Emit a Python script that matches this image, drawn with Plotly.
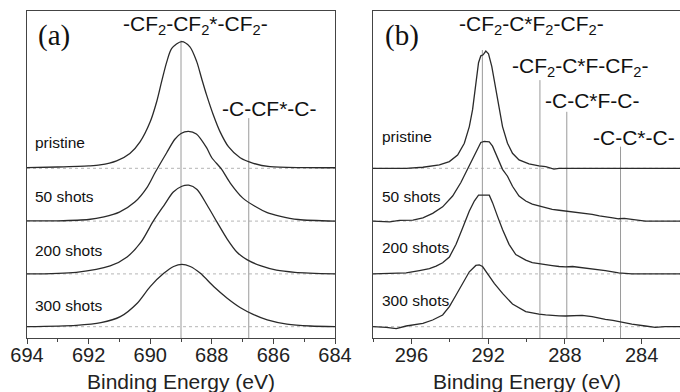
import plotly.graph_objects as go

# ---------------- data ----------------
sample_labels = ["pristine", "50 shots", "200 shots", "300 shots"]
offsets = [3, 2, 1, 0]

# Panel (a): F 1s region
a_E_pristine = [694, 693, 692, 691.63, 691.09, 690.66, 690.33, 690.0, 689.79, 689.63, 689.46, 689.3,
                688.98, 688.71, 688.49, 688.33, 688.17, 687.95, 687.73, 687.46, 687.08, 686.65,
                686.11, 685, 684]
a_I_pristine = [0.013, 0.025, 0.045, 0.063, 0.14, 0.28, 0.50, 0.88, 1.26, 1.64, 2.02, 2.27,
                2.40, 2.30, 2.02, 1.70, 1.39, 1.01, 0.69, 0.41, 0.20, 0.095,
                0.03, 0.013, 0.01]
a_E_50 = [694, 693, 692, 691.5, 691, 690.5, 690.1, 689.84, 689.46, 689.2, 689.0, 688.76,
          688.5, 688.17, 688.0, 687.68, 687.4, 687.0, 686.6, 686.2, 685.8, 685.2, 684]
a_I_50 = [0.005, 0.006, 0.03, 0.08, 0.17, 0.36, 0.64, 0.92, 1.30, 1.55, 1.66, 1.70,
          1.65, 1.39, 1.20, 0.98, 0.72, 0.44, 0.28, 0.16, 0.095, 0.03, 0.0]
a_E_200 = [694, 692.4, 691.3, 690.75, 690.3, 689.9, 689.55, 689.25, 688.97, 688.75, 688.48,
           688.15, 687.83, 687.5, 687.18, 686.86, 686.4, 685.9, 685.3, 684]
a_I_200 = [0.0, 0.03, 0.15, 0.32, 0.60, 1.00, 1.30, 1.55, 1.66, 1.68, 1.60,
           1.30, 0.98, 0.66, 0.41, 0.27, 0.15, 0.07, 0.03, 0.0]
a_E_300 = [694, 692.4, 691.6, 690.97, 690.43, 690.0, 689.56, 689.24, 688.97, 688.7, 688.37,
           687.94, 687.5, 687.07, 686.64, 686.2, 685.56, 684.8, 684]
a_I_300 = [0.0, 0.025, 0.076, 0.19, 0.44, 0.76, 1.01, 1.14, 1.18, 1.14, 1.01,
           0.76, 0.54, 0.36, 0.23, 0.13, 0.05, 0.013, 0.0]

# Panel (b): C 1s region
b_E_pristine = [298, 296.27, 295.4, 294.54, 294.02, 293.59, 293.24, 292.98, 292.81, 292.64, 292.5,
                292.38, 292.26, 292.12, 291.98, 291.81, 291.63, 291.46, 291.25, 290.99, 290.73,
                290.39, 289.87, 289.35, 289.0, 288.57, 288.31, 282]
b_I_pristine = [0.0, 0.0, 0.02, 0.063, 0.127, 0.25, 0.475, 0.79, 1.11, 1.55, 2.0,
                2.13, 2.15, 2.22, 2.17, 1.93, 1.57, 1.2, 0.79, 0.475, 0.285,
                0.158, 0.082, 0.045, 0.032, -0.015, 0.0, 0.0]
b_E_50 = [298, 297.13, 296.62, 295.92, 295.4, 294.89, 294.37, 293.85, 293.42, 293.07, 292.81,
          292.55, 292.38, 292.2, 291.94, 291.77, 291.51, 291.25, 290.99, 290.73, 290.39, 290.04,
          289.7, 289.35, 289.0, 288.66, 288.3, 287.97, 287.6, 287.27, 286.9, 286.58, 286.2,
          285.89, 285.5, 285.2, 284.9, 284.51, 284.2, 283.81, 282]
b_I_50 = [0.0, -0.013, 0.013, 0.02, 0.063, 0.146, 0.27, 0.475, 0.73, 0.98, 1.17,
          1.36, 1.49, 1.51, 1.50, 1.42, 1.20, 0.98, 0.85, 0.66, 0.475, 0.38,
          0.32, 0.285, 0.25, 0.22, 0.205, 0.19, 0.185, 0.17, 0.15, 0.127, 0.10,
          0.076, 0.06, 0.044, 0.05, 0.032, 0.02, 0.0, 0.0]
b_E_200 = [298, 296.96, 296.27, 295.58, 295.06, 294.71, 294.37, 294.02, 293.67, 293.33, 292.98,
           292.72, 292.5, 291.94, 291.77, 291.51, 291.25, 290.91, 290.56, 290.04, 289.7, 289.35,
           289.0, 288.66, 288.3, 287.97, 287.6, 287.27, 286.9, 286.58, 286.2, 285.89, 285.5,
           285.2, 284.51, 282]
b_I_200 = [0.0, 0.006, 0.019, 0.063, 0.10, 0.146, 0.21, 0.32, 0.56, 0.87, 1.19,
           1.38, 1.49, 1.49, 1.35, 1.09, 0.84, 0.56, 0.367, 0.26, 0.215, 0.196,
           0.17, 0.158, 0.14, 0.133, 0.14, 0.127, 0.115, 0.101, 0.085, 0.063, 0.04,
           0.019, 0.0, 0.0]
b_E_300 = [298, 297.31, 296.79, 296.27, 295.4, 294.89, 294.37, 294.02, 293.67, 293.33, 292.98,
           292.64, 292.46, 292.29, 292.03, 291.68, 291.25, 290.73, 290.04, 289.7, 289.35, 289.0,
           288.66, 288.3, 287.97, 287.5, 287.1, 286.58, 286.2, 285.89, 285.5, 285.2, 284.9,
           284.51, 283.81, 283.29, 282.78, 282]
b_I_300 = [0.0, -0.013, -0.038, 0.013, 0.063, 0.127, 0.222, 0.38, 0.60, 0.82, 1.04,
           1.16, 1.17, 1.14, 1.01, 0.82, 0.63, 0.43, 0.285, 0.26, 0.24, 0.225,
           0.21, 0.205, 0.203, 0.21, 0.215, 0.19, 0.16, 0.139, 0.12, 0.095, 0.08,
           0.05, 0.013, -0.013, 0.0, 0.0]

# component reference lines (position, top of line in stacked units)
a_lines_E = [689.0, 686.8]
a_lines_top = [5.42, 3.95]
a_line_labels = ["-CF<sub>2</sub>-CF<sub>2</sub>*-CF<sub>2</sub>-", "-C-CF*-C-"]
b_lines_E = [292.3, 289.3, 287.9, 285.1]
b_lines_top = [5.24, 4.67, 4.07, 3.41]
b_line_labels = ["-CF<sub>2</sub>-C*F<sub>2</sub>-CF<sub>2</sub>-", "-CF<sub>2</sub>-C*F-CF<sub>2</sub>-",
                 "-C-C*F-C-", "-C-C*-C-"]

a_ticks = [694, 692, 690, 688, 686, 684]
b_ticks = [296, 292, 288, 284]
a_range = [694, 684]
b_range = [298, 282]
y_range = [-0.214, 5.979]
x_title = "Binding Energy (eV)"

# ---------------- figure ----------------
W, H = 680, 392
TOP, BOT = 11, 338
FONT = "Liberation Sans, Arial, sans-serif"
CURVE = "#2a2a2a"

fig = go.Figure()

def px(x):
    return x / W

def py(y):
    return (BOT - y) / (BOT - TOP)

a_series = [(a_E_pristine, a_I_pristine), (a_E_50, a_I_50), (a_E_200, a_I_200), (a_E_300, a_I_300)]
b_series = [(b_E_pristine, b_I_pristine), (b_E_50, b_I_50), (b_E_200, b_I_200), (b_E_300, b_I_300)]

for (xa, ya, rng) in [("x", "y", a_range), ("x2", "y2", b_range)]:
    for off in offsets:
        fig.add_trace(go.Scatter(x=rng, y=[off, off], mode="lines", xaxis=xa, yaxis=ya,
                                 line=dict(color="#b5b5b5", width=1, dash="dot"),
                                 showlegend=False, hoverinfo="skip"))

for (xa, ya, E, T) in [("x", "y", a_lines_E, a_lines_top), ("x2", "y2", b_lines_E, b_lines_top)]:
    for e, t in zip(E, T):
        fig.add_trace(go.Scatter(x=[e, e], y=[t, y_range[0]], mode="lines", xaxis=xa, yaxis=ya,
                                 line=dict(color="#9a9a9a", width=1),
                                 showlegend=False, hoverinfo="skip"))

for (xa, ya, series, shape) in [("x", "y", a_series, "spline"), ("x2", "y2", b_series, "linear")]:
    for (E, I), off, name in zip(series, offsets, sample_labels):
        fig.add_trace(go.Scatter(x=E, y=[v + off for v in I], mode="lines", xaxis=xa, yaxis=ya,
                                 line=dict(color=CURVE, width=1.3, shape=shape, smoothing=0.8),
                                 name=name, showlegend=False))

axis_common = dict(showline=True, linecolor="#444", linewidth=1, showgrid=False, zeroline=False,
                   ticks="outside", ticklen=5, tickcolor="#444", automargin=False,
                   ticklabelstandoff=-6,
                   tickfont=dict(family=FONT, size=20, color="#222"))

fig.update_layout(
    width=W, height=H, margin=dict(l=0, r=0, t=TOP, b=H - BOT, pad=0),
    paper_bgcolor="white", plot_bgcolor="white", showlegend=False,
    xaxis=dict(domain=[px(27), px(335)], range=a_range, tickmode="array", tickvals=a_ticks,
               mirror=True, anchor="y",
               minor=dict(tickmode="linear", tick0=0, dtick=1, ticks="outside", ticklen=3, tickcolor="#444"),
               **axis_common),
    yaxis=dict(domain=[0, 1], range=y_range, showline=True, linecolor="#444", mirror=True,
               showticklabels=False, ticks="", showgrid=False, zeroline=False, anchor="x",
               automargin=False),
    xaxis2=dict(domain=[px(373), 1.0], range=b_range, tickmode="array", tickvals=b_ticks,
                mirror=True, anchor="y2",
                minor=dict(tickmode="linear", tick0=0, dtick=2, ticks="outside", ticklen=3, tickcolor="#444"),
                **axis_common),
    yaxis2=dict(domain=[0, 1], range=y_range, showline=True, linecolor="#444", mirror=False,
                showticklabels=False, ticks="", showgrid=False, zeroline=False, anchor="x2",
                automargin=False),
)

ann = []
ann.append(dict(text="(a)", x=px(54), y=py(35), font=dict(family="Liberation Serif, Times New Roman, serif", size=29, color="#111")))
ann.append(dict(text="(b)", x=px(402), y=py(35), font=dict(family="Liberation Serif, Times New Roman, serif", size=29, color="#111")))
a_lab_pos = [(195, 25, "center"), (220, 108, "left")]
b_lab_pos = [(531, 25, "center"), (580, 67, "center"), (592, 100, "center"), (634, 137, "center")]
for lab, (x, y, anc) in zip(a_line_labels, a_lab_pos):
    ann.append(dict(text=lab, x=px(x), y=py(y), xanchor=anc, font=dict(family=FONT, size=21, color="#111")))
for lab, (x, y, anc) in zip(b_line_labels, b_lab_pos):
    ann.append(dict(text=lab, x=px(x), y=py(y), xanchor=anc, font=dict(family=FONT, size=21, color="#111")))
a_samp_y = [142, 196, 250, 305]
b_samp_y = [136, 196, 247, 300]
for lab, y in zip(sample_labels, a_samp_y):
    ann.append(dict(text=lab, x=px(33), y=py(y), xanchor="left", font=dict(family=FONT, size=15.5, color="#111")))
for lab, y in zip(sample_labels, b_samp_y):
    ann.append(dict(text=lab, x=px(380), y=py(y), xanchor="left", font=dict(family=FONT, size=15.5, color="#111")))
ann.append(dict(text=x_title, x=px(181), y=py(381), font=dict(family=FONT, size=21, color="#222")))
ann.append(dict(text=x_title, x=px(526.5), y=py(381), font=dict(family=FONT, size=21, color="#222")))

for a in ann:
    a.setdefault("xanchor", "center")
    a.update(xref="paper", yref="paper", yanchor="middle", showarrow=False)
fig.update_layout(annotations=ann)

fig.write_html("out.html", config={"displayModeBar": False},
               post_script="document.body.style.margin='0';document.body.style.overflow='hidden';")
